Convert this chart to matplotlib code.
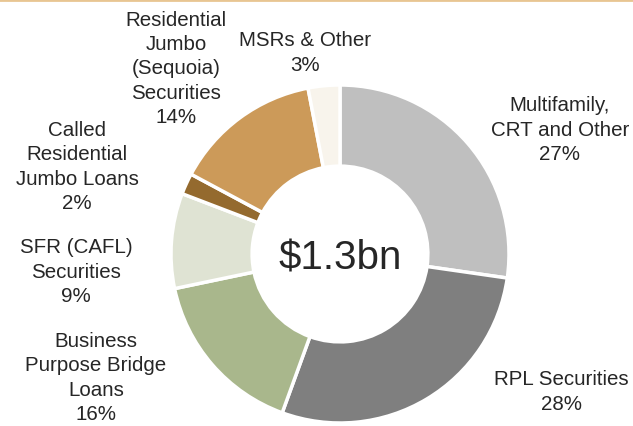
import matplotlib.pyplot as plt

# data
labels = ['Multifamily,\nCRT and Other', 'RPL Securities', 'Business\nPurpose Bridge\nLoans',
          'SFR (CAFL)\nSecurities', 'Called\nResidential\nJumbo Loans',
          'Residential\nJumbo\n(Sequoia)\nSecurities', 'MSRs & Other']
shares = [27, 28, 16, 9, 2, 14, 3]
colors = ['#BFBFBF', '#7F7F7F', '#A9B78C', '#DFE3D3', '#946A2E', '#CC9A59', '#F8F4EC']
total_text = '$1.3bn'

# label centres in pixels (x, y from top)
label_pos = [(560, 130), (561, 392), (96, 378), (76, 167 + 105), (77, 167), (176, 69), (305, 53)]

W, H = 633, 427
plt.rcParams['font.family'] = ['Liberation Sans', 'DejaVu Sans']

fig = plt.figure(figsize=(W / 100, H / 100), dpi=100)
ax = fig.add_axes([0, 0, 1, 1])

ax.pie(shares, colors=colors, startangle=90, counterclock=False,
       center=(340, H - 255), radius=169,
       wedgeprops=dict(width=169 * 0.48, edgecolor='white', linewidth=2.5))

ax.set_xlim(0, W)
ax.set_ylim(0, H)
ax.set_aspect('equal')
ax.axis('off')

for lab, val, (x, y) in zip(labels, shares, label_pos):
    ax.text(x, H - y, f'{lab}\n{val}%', ha='center', va='center',
            fontsize=14.8, color='#262626', linespacing=1.34)

ax.text(340, H - 258, total_text, ha='center', va='center', fontsize=29, color='#262626')

# thin rule along the top edge
ax.axhline(H - 1, color='#E8C592', linewidth=2)

fig.savefig('out.png', dpi=100)
